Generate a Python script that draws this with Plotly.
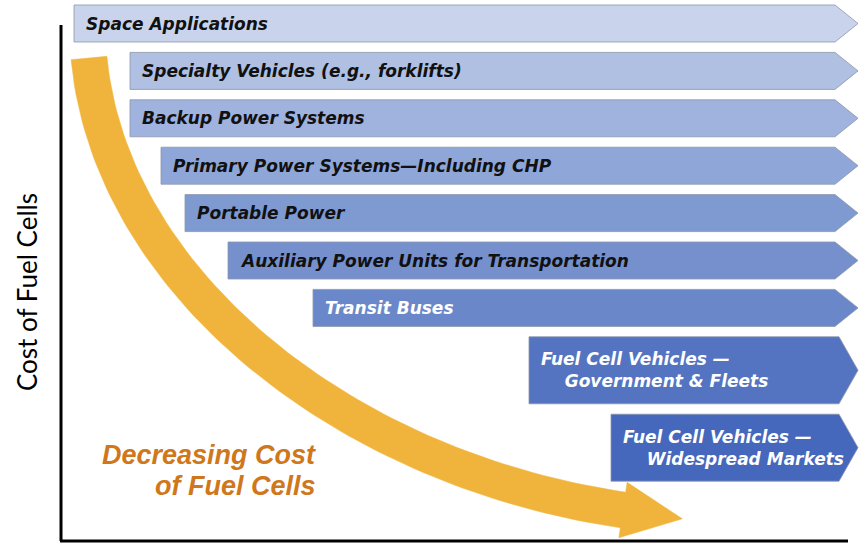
import numpy as np
import plotly.graph_objects as go

# ---- data ----
applications = [
    "Space Applications",
    "Specialty Vehicles (e.g., forklifts)",
    "Backup Power Systems",
    "Primary Power Systems\u2014Including CHP",
    "Portable Power",
    "Auxiliary Power Units for Transportation",
    "Transit Buses",
    "Fuel Cell Vehicles \u2014<br>\u00a0\u00a0\u00a0\u00a0Government & Fleets",
    "Fuel Cell Vehicles \u2014<br>\u00a0\u00a0\u00a0\u00a0Widespread Markets",
]
# horizontal entry point of each market (chart units, 0-860)
entry_points = [74, 130, 130, 161, 185, 228, 313, 529, 611]
text_lines = [1, 1, 1, 1, 1, 1, 1, 2, 2]
fill_colors = ["#C9D4EC", "#AFC0E3", "#A0B2DE", "#8FA6D8", "#7F99D1",
               "#7590CD", "#6A87C9", "#5474C1", "#4567BC"]
text_colors = ["#111111"] * 6 + ["#FFFFFF"] * 3

AXIS_TITLE = "Cost of Fuel Cells"
CURVE_LABEL_LINES = ["Decreasing Cost", "of Fuel Cells"]

W, H = 860, 544
fig = go.Figure()

# ---- chevron bars ----
top = 5.0
row_h1, row_extra, gap = 37.0, 30.0, 10.4
x_end = 858
for name, x0, nl, fc, tc in zip(applications, entry_points, text_lines, fill_colors, text_colors):
    h = row_h1 + row_extra * (nl - 1)
    y0, y1 = top, top + h
    depth = 23 if nl == 1 else 19
    xs = [x0, x_end - depth, x_end, x_end - depth, x0, x0]
    ys = [y0, y0, (y0 + y1) / 2, y1, y1, y0]
    fig.add_trace(go.Scatter(x=xs, y=ys, mode="lines", fill="toself",
                             fillcolor=fc, line=dict(color="rgba(140,150,170,0.8)", width=1),
                             hoverinfo="skip", showlegend=False))
    fig.add_annotation(x=x0 + 10, y=(y0 + y1) / 2, text=name, showarrow=False,
                       xanchor="left", yanchor="middle", align="left",
                       font=dict(family="DejaVu Sans", size=17, color=tc,
                                 weight="bold", style="italic"))
    top = y1 + gap

# ---- curved orange arrow ----
P0 = np.array([89.0, 58.0])
P1 = np.array([110.0, 280.0])
P2 = np.array([340.0, 468.0])
P3 = np.array([623.0, 510.0])
t = np.linspace(0, 1, 80)[:, None]
curve = ((1 - t) ** 3) * P0 + 3 * ((1 - t) ** 2) * t * P1 + 3 * (1 - t) * t ** 2 * P2 + t ** 3 * P3
deriv = 3 * (1 - t) ** 2 * (P1 - P0) + 6 * (1 - t) * t * (P2 - P1) + 3 * t ** 2 * (P3 - P2)
tang = deriv / np.linalg.norm(deriv, axis=1, keepdims=True)
norm = np.stack([-tang[:, 1], tang[:, 0]], axis=1)
hw = 18.0
left = curve + norm * hw
right = curve - norm * hw
d_end = tang[-1]
n_end = norm[-1]
head_hw, head_len = 28.0, 60.0
tip = P3 + d_end * head_len
poly = np.vstack([left, [P3 + n_end * head_hw], [tip], [P3 - n_end * head_hw], right[::-1], left[:1]])
fig.add_trace(go.Scatter(x=poly[:, 0], y=poly[:, 1], mode="lines", fill="toself",
                         fillcolor="#F0B43C", line=dict(color="#F0B43C", width=0.5),
                         hoverinfo="skip", showlegend=False))

for i, line in enumerate(CURVE_LABEL_LINES):
    fig.add_annotation(x=318, y=455 + 31 * i, text=line, showarrow=False,
                       xanchor="right", yanchor="middle", align="right",
                       font=dict(family="Liberation Sans", size=27, color="#D0771C",
                                 weight="bold", style="italic"))

# ---- axis lines and title ----
fig.add_shape(type="line", x0=61, x1=61, y0=25, y1=541, xref="x", yref="y",
              line=dict(color="black", width=3))
fig.add_shape(type="line", x0=60, x1=848, y0=541, y1=541, xref="x", yref="y",
              line=dict(color="black", width=3))
fig.add_annotation(x=27, y=292, text=AXIS_TITLE, showarrow=False, textangle=-90,
                   xanchor="center", yanchor="middle",
                   font=dict(family="Lato", size=26, color="black"))

fig.update_layout(width=W, height=H, margin=dict(l=0, r=0, t=0, b=0),
                  paper_bgcolor="white", plot_bgcolor="white",
                  xaxis=dict(range=[0, W], visible=False, fixedrange=True),
                  yaxis=dict(range=[H, 0], visible=False, fixedrange=True))
fig.write_html("out.html", config={"displayModeBar": False},
               post_script="document.body.style.margin='0';document.body.style.overflow='hidden';")
